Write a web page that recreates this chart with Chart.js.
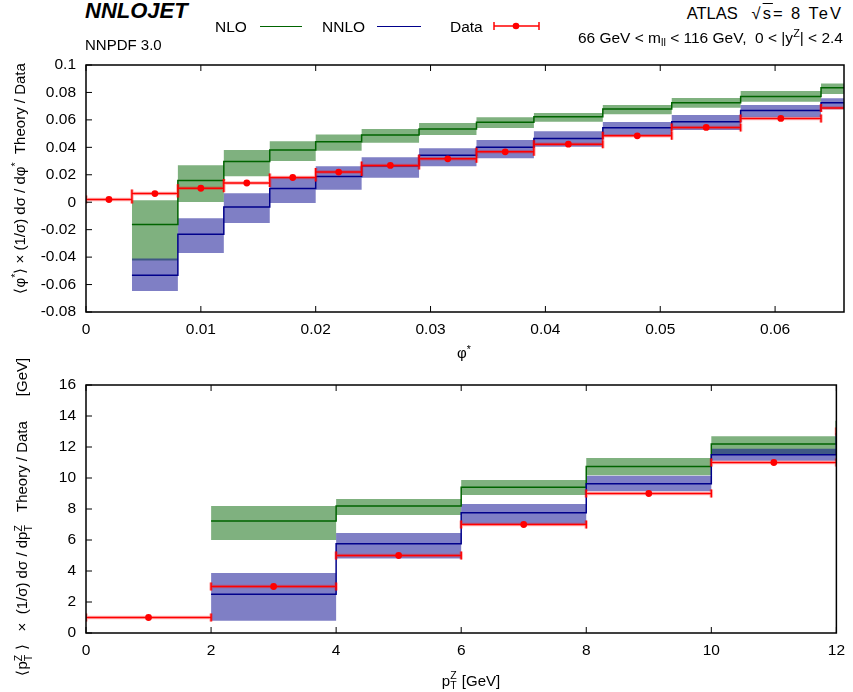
<!DOCTYPE html>
<html>
<head>
<meta charset="utf-8">
<title>NNLOJET phi* / pTZ</title>
<script src="https://cdn.jsdelivr.net/npm/chart.js"></script>
<style>
  body { margin: 0; background: #fff; color: #000; font-family: "Liberation Sans", Arial, sans-serif; }
  #wrap { position: relative; width: 853px; height: 692px; overflow: hidden; }
  canvas { position: absolute; left: 0; }
  .t { position: absolute; white-space: nowrap; line-height: 1; }
  .sp { font-size: 0.7em; position: relative; top: -0.55em; }
  .sb { font-size: 0.7em; position: relative; top: 0.3em; }
  .ss { display: inline-block; position: relative; width: 0.5em; height: 1em; }
  .ss .z { position: absolute; left: 0; top: -0.06em; font-size: 0.7em; }
  .ss .tt { position: absolute; left: 0; top: 0.87em; font-size: 0.7em; }
  .yt { position: absolute; font-size: 15px; line-height: 15px; height: 15px; white-space: nowrap;
        transform-origin: 0 50%; transform: rotate(-90deg); }
  .yt .ss { width: 0.75em; }
  .leg { position: absolute; height: 1.5px; top: 25.5px; }
</style>
</head>
<body>
<div id="wrap">
  <canvas id="c1" width="853" height="320" style="top:45px;"></canvas>
  <canvas id="c2" width="853" height="327" style="top:365px;"></canvas>

  <div class="t" style="left:85px; top:0px; font-size:22px; font-weight:bold; font-style:italic;">NNLOJET</div>
  <div class="t" style="left:85px; top:37.3px; font-size:15px;">NNPDF 3.0</div>

  <div class="t" style="left:215px; top:19.2px; font-size:15.5px;">NLO</div>
  <div class="leg" style="left:260px; width:42px; background:#006400;"></div>
  <div class="t" style="left:322px; top:19.2px; font-size:15.5px;">NNLO</div>
  <div class="leg" style="left:377px; width:44px; background:#00008b;"></div>
  <div class="t" style="left:450px; top:19.2px; font-size:15.5px;">Data</div>
  <svg style="position:absolute; left:492px; top:20px;" width="50" height="12">
    <line x1="2" y1="6" x2="47" y2="6" stroke="#ff0000" stroke-width="1.5"/>
    <line x1="2" y1="2" x2="2" y2="10" stroke="#ff0000" stroke-width="1.5"/>
    <line x1="47" y1="2" x2="47" y2="10" stroke="#ff0000" stroke-width="1.5"/>
    <circle cx="24" cy="6" r="3.3" fill="#ff0000"/>
  </svg>

  <div class="t" style="right:10px; top:4.8px; font-size:16.5px;">ATLAS&nbsp;&nbsp;&nbsp;<span style="letter-spacing:2px;">√<span style="text-decoration:overline">s</span>= 8 TeV</span></div>
  <div class="t" style="right:10px; top:29.6px; font-size:15.5px;">66 GeV &lt; m<span class="sb">ll</span> &lt; 116 GeV,&nbsp;&nbsp;0 &lt; |y<span class="sp">Z</span>| &lt; 2.4</div>

  <div class="yt" style="left:18.5px; top:285.5px;">⟨φ<span class="sp">*</span>⟩&nbsp;×&nbsp;(1/σ) dσ / dφ<span class="sp">*</span>&nbsp;&nbsp;Theory / Data</div>
  <div class="yt" style="left:18.5px; top:667.5px;">⟨p<span class="ss"><span class="z">Z</span><span class="tt">T</span></span>⟩&nbsp;&nbsp;&nbsp;×&nbsp;&nbsp;(1/σ) dσ / dp<span class="ss"><span class="z">Z</span><span class="tt">T</span></span>&nbsp;&nbsp;Theory / Data&nbsp;&nbsp;&nbsp;&nbsp;&nbsp;&nbsp;[GeV]</div>

  <div class="t" style="left:464px; top:345.3px; font-size:15px; transform:translateX(-50%);">φ<span class="sp">*</span></div>
  <div class="t" style="left:471px; top:671px; font-size:15px; transform:translateX(-50%);">p<span class="ss"><span class="z">Z</span><span class="tt">T</span></span> [GeV]</div>
</div>

<script>
  // phi* panel: bin edges, values per bin (null = no prediction)
  const phiEdges = [0, 0.004, 0.008, 0.012, 0.016, 0.020, 0.024, 0.029, 0.034, 0.039, 0.045, 0.051, 0.057, 0.064, 0.072];
  const phiData = [0.002, 0.0063, 0.0102, 0.014, 0.018, 0.022, 0.0268, 0.0316, 0.0367, 0.0423, 0.0484, 0.0545, 0.0611, 0.0686];
  const phiNlo = [null, -0.0163, 0.0158, 0.0297, 0.038, 0.044, 0.049, 0.0533, 0.0582, 0.0623, 0.0679, 0.0725, 0.0771, 0.0834];
  const phiNloHi = [null, 0.0015, 0.027, 0.038, 0.0445, 0.0494, 0.0533, 0.0577, 0.062, 0.065, 0.0708, 0.076, 0.081, 0.0866];
  const phiNloLo = [null, -0.0425, 0.0002, 0.019, 0.030, 0.0375, 0.0433, 0.049, 0.054, 0.0586, 0.0642, 0.0689, 0.0732, 0.0788];
  const phiNnlo = [null, -0.0533, -0.0234, -0.0034, 0.010, 0.0187, 0.0265, 0.0343, 0.040, 0.0465, 0.0542, 0.0586, 0.0669, 0.0725];
  const phiNnloHi = [null, -0.041, -0.0117, 0.0066, 0.0178, 0.0263, 0.0328, 0.0394, 0.0453, 0.0518, 0.0584, 0.0635, 0.0708, 0.0757];
  const phiNnloLo = [null, -0.0647, -0.037, -0.0151, -0.0005, 0.009, 0.0178, 0.0263, 0.032, 0.0404, 0.049, 0.0526, 0.062, 0.0677];
  const phiXTicks = [0, 0.01, 0.02, 0.03, 0.04, 0.05, 0.06];
  const phiYTicks = [-0.08, -0.06, -0.04, -0.02, 0, 0.02, 0.04, 0.06, 0.08, 0.1];

  // pT panel
  const ptEdges = [0, 2, 4, 6, 8, 10, 12, 14];
  const ptData = [1, 3, 5, 7, 9, 11, 13];
  const ptNlo = [null, 7.23, 8.19, 9.4, 10.75, 12.19, 13.7];
  const ptNloHi = [null, 8.19, 8.65, 9.87, 11.29, 12.69, 14.2];
  const ptNloLo = [null, 6.0, 7.61, 8.9, 10.17, 11.5, 13.2];
  const ptNnlo = [null, 2.5, 5.76, 7.76, 9.63, 11.5, 12.9];
  const ptNnloHi = [null, 3.87, 6.45, 8.32, 10.15, 11.89, 13.3];
  const ptNnloLo = [null, 0.79, 4.8, 7.01, 9.14, 11.12, 12.5];
  const ptXTicks = [0, 2, 4, 6, 8, 10, 12];
  const ptYTicks = [0, 2, 4, 6, 8, 10, 12, 14, 16];

  Chart.defaults.font.family = '"Liberation Sans", Arial, sans-serif';
  Chart.defaults.font.size = 15.5;
  Chart.defaults.color = '#000';

  function stepPoints(edges, vals) {
    const pts = [];
    let last = -1;
    vals.forEach((v, i) => {
      if (v === null) return;
      pts.push({ x: edges[i], y: v });
      last = i;
    });
    pts.push({ x: edges[last + 1], y: vals[last] });
    return pts;
  }

  function dataPoints(edges, vals) {
    return vals.map((v, i) => ({ x: (edges[i] + edges[i + 1]) / 2, y: v, lo: edges[i], hi: edges[i + 1] }));
  }

  // horizontal error bars with end caps for the data
  const errBars = {
    id: 'errBars',
    beforeDatasetDraw(chart, args) {
      const ds = chart.data.datasets[args.index];
      if (!ds.errorBars) return;
      const { ctx, chartArea: a, scales: { x, y } } = chart;
      ctx.save();
      ctx.beginPath();
      ctx.rect(a.left, a.top, a.right - a.left, a.bottom - a.top);
      ctx.clip();
      [[3.5, 'rgba(255,0,0,0.3)'], [1.5, '#ff0000']].forEach(([w, c]) => {
        ctx.lineWidth = w;
        ctx.strokeStyle = c;
        ctx.beginPath();
        ds.data.forEach(p => {
          const x0 = x.getPixelForValue(p.lo), x1 = x.getPixelForValue(p.hi), py = y.getPixelForValue(p.y);
          ctx.moveTo(x0, py); ctx.lineTo(x1, py);
          ctx.moveTo(x0, py - 4); ctx.lineTo(x0, py + 4);
          ctx.moveTo(x1, py - 4); ctx.lineTo(x1, py + 4);
        });
        ctx.stroke();
      });
      ctx.restore();
    }
  };

  // frame and inward tick marks (gnuplot style)
  const frame = {
    id: 'frame',
    afterDraw(chart) {
      const { ctx, chartArea: a, scales: { x, y } } = chart;
      ctx.save();
      ctx.strokeStyle = '#000';
      ctx.lineWidth = 1;
      ctx.beginPath();
      x.ticks.forEach(t => {
        const px = x.getPixelForValue(t.value);
        ctx.moveTo(px, a.bottom); ctx.lineTo(px, a.bottom - 6);
        ctx.moveTo(px, a.top); ctx.lineTo(px, a.top + 6);
      });
      y.ticks.forEach(t => {
        const py = y.getPixelForValue(t.value);
        ctx.moveTo(a.left, py); ctx.lineTo(a.left + 6, py);
      });
      ctx.stroke();
      ctx.lineWidth = 1.5;
      ctx.strokeRect(a.left, a.top, a.right - a.left, a.bottom - a.top);
      ctx.restore();
    }
  };

  function makeChart(id, d, opt) {
    const band = (pts, color, fill, order) => ({
      data: pts, stepped: true, borderWidth: 0, pointRadius: 0, backgroundColor: color, fill: fill, order: order
    });
    const line = (pts, color, order) => ({
      data: pts, stepped: true, borderColor: color, borderWidth: 1.5, pointRadius: 0, fill: false, order: order
    });
    return new Chart(document.getElementById(id), {
      type: 'line',
      data: {
        datasets: [
          band(stepPoints(d.edges, d.nloHi), 'rgba(0,100,0,0.5)', '+1', 5),
          band(stepPoints(d.edges, d.nloLo), 'rgba(0,100,0,0.5)', false, 5),
          band(stepPoints(d.edges, d.nnloHi), 'rgba(0,0,139,0.5)', '+1', 4),
          band(stepPoints(d.edges, d.nnloLo), 'rgba(0,0,139,0.5)', false, 4),
          line(stepPoints(d.edges, d.nlo), '#006400', 2),
          line(stepPoints(d.edges, d.nnlo), '#00008b', 1),
          {
            data: dataPoints(d.edges, d.data), errorBars: true, showLine: false, order: 0,
            pointRadius: 3.4, pointBackgroundColor: '#ff0000', pointBorderColor: '#ff0000', pointBorderWidth: 0
          }
        ]
      },
      options: {
        responsive: false,
        animation: false,
        layout: { padding: { left: 0, right: 9, top: 20, bottom: 0 } },
        plugins: { legend: { display: false }, tooltip: { enabled: false } },
        scales: {
          x: {
            type: 'linear', min: opt.xMin, max: opt.xMax,
            grid: { display: false, drawTicks: false }, border: { display: false },
            ticks: { padding: 8, maxRotation: 0, autoSkip: false, callback: v => String(v) },
            afterBuildTicks: s => { s.ticks = opt.xTicks.map(v => ({ value: v })); },
            afterFit: s => { s.height = opt.xHeight; }
          },
          y: {
            type: 'linear', min: opt.yMin, max: opt.yMax,
            grid: { display: false, drawTicks: false }, border: { display: false },
            ticks: { padding: 10, autoSkip: false, callback: v => String(v) },
            afterBuildTicks: s => { s.ticks = opt.yTicks.map(v => ({ value: v })); },
            afterFit: s => { s.width = 86; }
          }
        }
      },
      plugins: [errBars, frame]
    });
  }

  makeChart('c1',
    { edges: phiEdges, data: phiData, nlo: phiNlo, nloHi: phiNloHi, nloLo: phiNloLo, nnlo: phiNnlo, nnloHi: phiNnloHi, nnloLo: phiNnloLo },
    { xMin: 0, xMax: 0.066, yMin: -0.08, yMax: 0.1, xTicks: phiXTicks, yTicks: phiYTicks, xHeight: 53 });

  makeChart('c2',
    { edges: ptEdges, data: ptData, nlo: ptNlo, nloHi: ptNloHi, nloLo: ptNloLo, nnlo: ptNnlo, nnloHi: ptNnloHi, nnloLo: ptNnloLo },
    { xMin: 0, xMax: 12, yMin: 0, yMax: 16, xTicks: ptXTicks, yTicks: ptYTicks, xHeight: 59 });
</script>
</body>
</html>
